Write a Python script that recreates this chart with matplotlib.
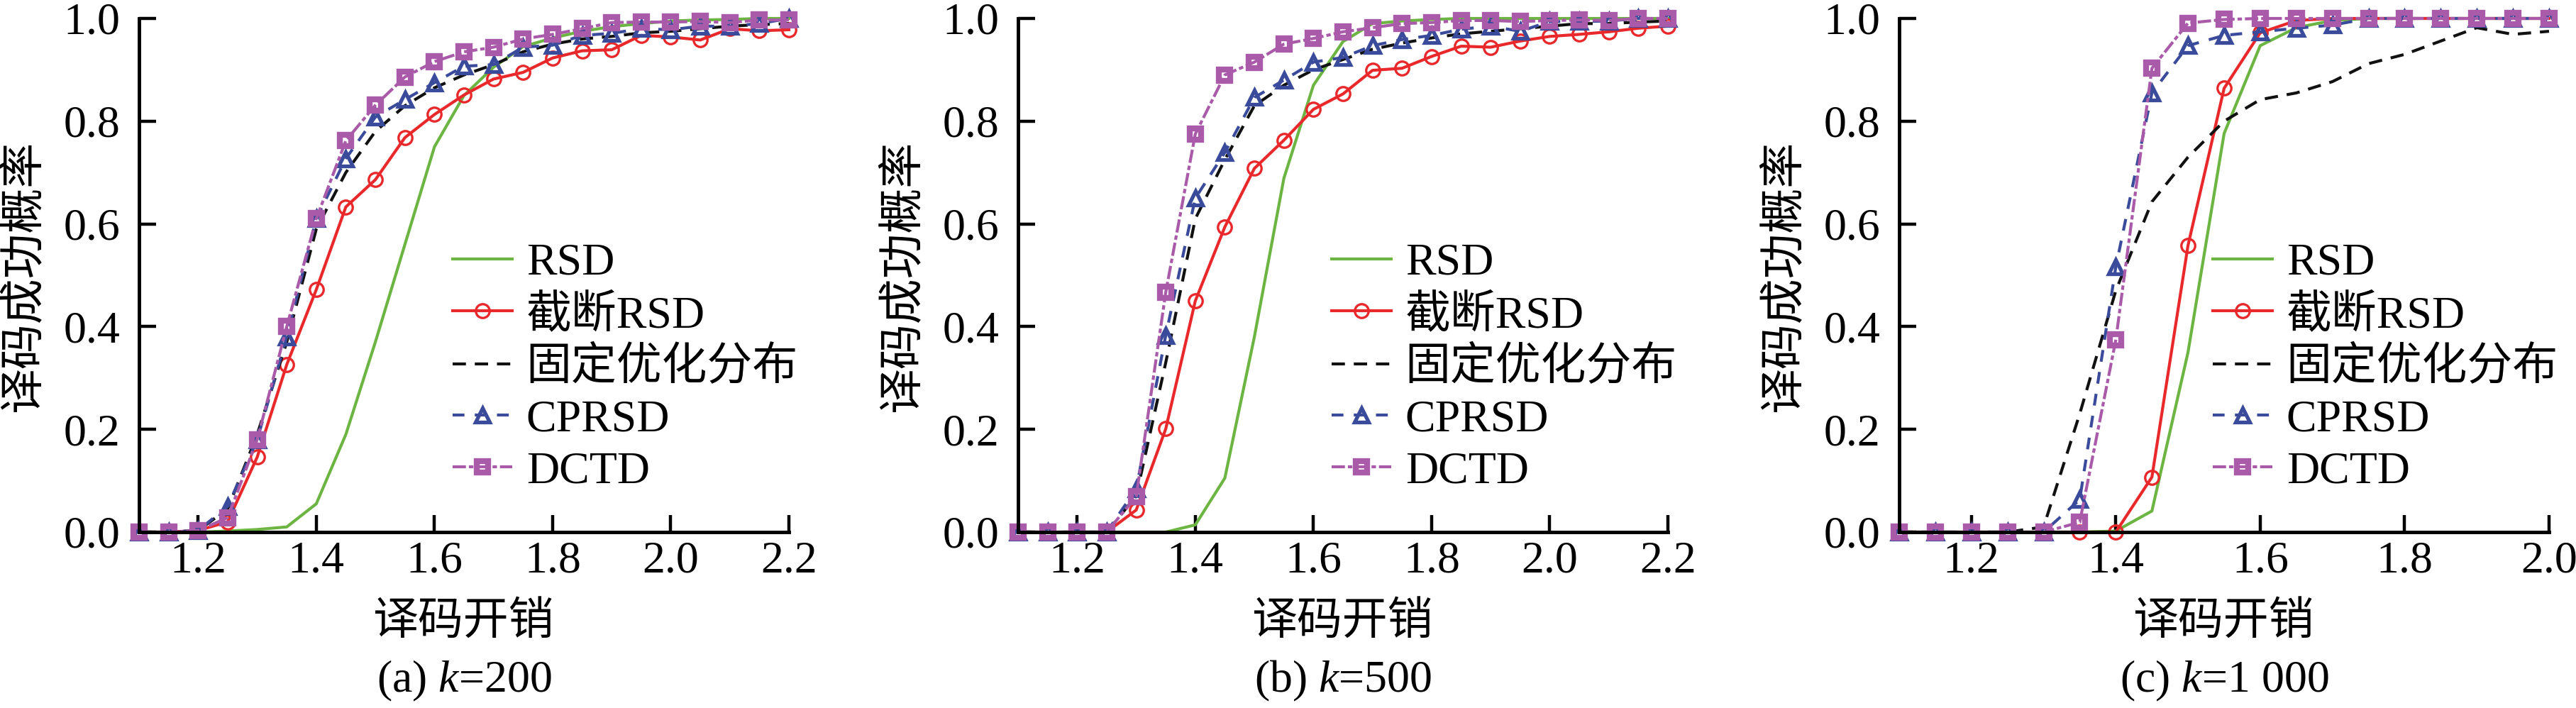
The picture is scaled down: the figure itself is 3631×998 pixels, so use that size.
import matplotlib
matplotlib.use("Agg")
import matplotlib.pyplot as plt
from matplotlib.ticker import FormatStrFormatter

plt.rcParams["font.family"] = ["Liberation Serif", "Noto Sans CJK SC"]
plt.rcParams["mathtext.fontset"] = "custom"
plt.rcParams["mathtext.rm"] = "Liberation Serif"
plt.rcParams["mathtext.it"] = "Liberation Serif:italic"
plt.rcParams["axes.unicode_minus"] = False

# 数据
X_AB = [1.10, 1.15, 1.20, 1.25, 1.30, 1.35, 1.40, 1.45, 1.50, 1.55, 1.60, 1.65,
        1.70, 1.75, 1.80, 1.85, 1.90, 1.95, 2.00, 2.05, 2.10, 2.15, 2.20]
X_C = [1.10, 1.15, 1.20, 1.25, 1.30, 1.35, 1.40, 1.45, 1.50, 1.55, 1.60, 1.65,
       1.70, 1.75, 1.80, 1.85, 1.90, 1.95, 2.00]

RSD_A = [0, 0, 0, 0.002, 0.005, 0.01, 0.055, 0.19, 0.37, 0.56, 0.75, 0.85,
         0.905, 0.945, 0.962, 0.975, 0.984, 0.99, 0.995, 0.997, 0.998, 1.0, 1.0]
TRUNC_A = [0, 0, 0.003, 0.02, 0.146, 0.326, 0.472, 0.633, 0.686, 0.768, 0.813, 0.851,
           0.882, 0.895, 0.923, 0.937, 0.939, 0.967, 0.964, 0.958, 0.98, 0.976, 0.978]
FIXED_A = [0, 0, 0.003, 0.045, 0.19, 0.37, 0.59, 0.70, 0.78, 0.83, 0.865, 0.89,
           0.91, 0.935, 0.95, 0.96, 0.965, 0.972, 0.975, 0.98, 0.985, 0.988, 0.99]
CP_A = [0, 0, 0.003, 0.05, 0.18, 0.38, 0.61, 0.727, 0.808, 0.842, 0.875, 0.907,
        0.91, 0.944, 0.948, 0.967, 0.971, 0.98, 0.978, 0.985, 0.985, 0.99, 1.0]
DC_A = [0, 0, 0.003, 0.028, 0.18, 0.40, 0.61, 0.762, 0.831, 0.886, 0.916, 0.935,
        0.944, 0.96, 0.969, 0.98, 0.992, 0.993, 0.993, 0.994, 0.992, 0.997, 0.997]

RSD_B = [0, 0, 0, 0, 0, 0, 0.014, 0.105, 0.38, 0.689, 0.87, 0.955,
         0.99, 0.995, 0.998, 1, 1, 1, 1, 1, 1, 1, 1]
TRUNC_B = [0, 0, 0, 0, 0.043, 0.201, 0.45, 0.594, 0.708, 0.763, 0.823, 0.853,
           0.899, 0.903, 0.926, 0.946, 0.944, 0.956, 0.965, 0.969, 0.974, 0.981, 0.985]
FIXED_B = [0, 0, 0, 0, 0.07, 0.33, 0.61, 0.725, 0.83, 0.87, 0.90, 0.92,
           0.94, 0.952, 0.962, 0.97, 0.975, 0.98, 0.985, 0.99, 0.99, 0.993, 0.995]
CP_B = [0, 0, 0, 0, 0.084, 0.383, 0.65, 0.739, 0.846, 0.88, 0.915, 0.924,
        0.947, 0.959, 0.967, 0.979, 0.985, 0.975, 0.994, 0.994, 0.995, 1.0, 1.0]
DC_B = [0, 0, 0, 0, 0.069, 0.467, 0.775, 0.89, 0.915, 0.95, 0.961, 0.974,
        0.982, 0.99, 0.992, 0.996, 0.996, 0.994, 0.996, 0.997, 0.996, 1.0, 1.0]

RSD_C = [0, 0, 0, 0, 0, 0, 0.002, 0.041, 0.35, 0.776, 0.947, 0.982,
         0.996, 1, 1, 1, 1, 1, 1]
TRUNC_C = [0, 0, 0, 0, 0, 0, 0, 0.107, 0.558, 0.864, 0.972, 0.996,
           1, 1, 1, 1, 1, 1, 1]
FIXED_C = [0, 0, 0, 0, 0.01, 0.23, 0.47, 0.643, 0.73, 0.80, 0.842, 0.855,
           0.877, 0.912, 0.93, 0.956, 0.982, 0.969, 0.975]
CP_C = [0, 0, 0, 0, 0, 0.063, 0.516, 0.855, 0.947, 0.967, 0.974, 0.981,
        0.987, 1, 1, 1, 1, 1, 1]
DC_C = [0, 0, 0, 0, 0, 0.019, 0.374, 0.903, 0.991, 0.998, 1, 1,
        1, 1, 1, 1, 1, 1, 1]

LABELS = ["RSD", "截断RSD", "固定优化分布", "CPRSD", "DCTD"]
CAPTIONS = ["(a) $k$=200", "(b) $k$=500", "(c) $k$=1 000"]
XTICKS_AB = [1.2, 1.4, 1.6, 1.8, 2.0, 2.2]
XTICKS_C = [1.2, 1.4, 1.6, 1.8, 2.0]
YTICKS = [0.0, 0.2, 0.4, 0.6, 0.8, 1.0]

# 样式
GREEN = "#6cb543"
RED = "#e8282a"
BLACK = "#111111"
BLUE = "#3b4b9b"
PURPLE = "#a95aa9"
FS = 46
LW = 3.0

STYLES = [
    dict(color=GREEN, linestyle="-", marker=None),
    dict(color=RED, linestyle="-", marker="o", markersize=14, markerfacecolor="none",
         markeredgewidth=2.4),
    dict(color=BLACK, linestyle=(0, (4.5, 3)), marker=None),
    dict(color=BLUE, linestyle=(0, (4, 3.5)), marker="^", markersize=15, markerfacecolor="none",
         markeredgewidth=3.8),
    dict(color=PURPLE, linestyle=(0, (4.5, 1, 1.5, 1)), marker="s", markersize=12,
         markerfacecolor="none", markeredgewidth=6),
]

PANELS = [
    (X_AB, [RSD_A, TRUNC_A, FIXED_A, CP_A, DC_A], 2.2, XTICKS_AB),
    (X_AB, [RSD_B, TRUNC_B, FIXED_B, CP_B, DC_B], 2.2, XTICKS_AB),
    (X_C, [RSD_C, TRUNC_C, FIXED_C, CP_C, DC_C], 2.0, XTICKS_C),
]

LEFTS = [196 / 3631, 1435 / 3631, 2677 / 3631]
WIDTH = 916 / 3631
BOTTOM = 1 - 750 / 998
HEIGHT = (750 - 26) / 998

fig = plt.figure(figsize=(36.31, 9.98), dpi=100, facecolor="white")

for i, (xs, series, xmax, xticks) in enumerate(PANELS):
    ax = fig.add_axes([LEFTS[i], BOTTOM, WIDTH, HEIGHT])
    for ys, label, st in zip(series, LABELS, STYLES):
        ax.plot(xs, ys, label=label, linewidth=LW, clip_on=False, **st)

    ax.set_xlim(1.1, xmax)
    ax.set_ylim(0, 1.0)
    ax.set_xticks(xticks)
    ax.set_yticks(YTICKS)
    ax.xaxis.set_major_formatter(FormatStrFormatter("%.1f"))
    ax.yaxis.set_major_formatter(FormatStrFormatter("%.1f"))
    for side in ("top", "right"):
        ax.spines[side].set_visible(False)
    for side in ("left", "bottom"):
        ax.spines[side].set_linewidth(3.5)
    ax.tick_params(direction="in", length=17, width=3.2, labelsize=FS)
    ax.tick_params(axis="x", pad=9)
    ax.tick_params(axis="y", pad=19)

    ax.text(0.5, -0.177, "译码开销", transform=ax.transAxes, fontsize=FS,
            ha="center", va="center")
    ax.text(-0.176, 0.5, "译码成功概率", transform=ax.transAxes, fontsize=FS,
            ha="center", va="center", rotation=90)
    ax.text(0.5, -0.29, CAPTIONS[i], transform=ax.transAxes, fontsize=FS,
            ha="center", va="center")

    ax.legend(loc="center left", bbox_to_anchor=(0.482, 0.32), frameon=False,
              fontsize=FS, handlelength=1.33, handletextpad=0.3,
              labelspacing=0.22, borderaxespad=0, borderpad=0, numpoints=1)

fig.savefig("out.png", dpi=100, facecolor="white")
